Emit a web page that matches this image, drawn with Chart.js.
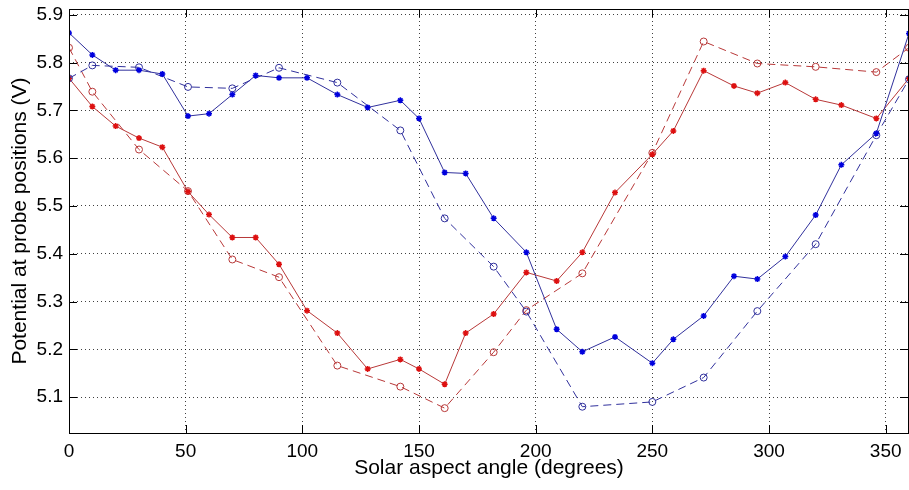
<!DOCTYPE html>
<html>
<head>
<meta charset="utf-8">
<script src="https://cdn.jsdelivr.net/npm/chart.js@4"></script>
<style>
  html, body { margin: 0; padding: 0; background: #fff; }
  #chart { display: block; }
</style>
</head>
<body>
<canvas id="chart" width="909" height="490"></canvas>
<script>
// angles where the solid (asterisk) curves were sampled
const anglesSolid = [0, 10, 20, 30, 40, 51, 60, 70, 80, 90, 102, 115, 128, 142, 150, 161,
    170, 182, 196, 209, 220, 234, 250, 259, 272, 285, 295, 307, 320, 331, 346, 360];
// angles of the dashed (circle) curves
const anglesDashed = [0, 10, 30, 51, 70, 90, 115, 142, 161, 182, 196, 220, 250, 272, 295, 320, 346, 360];

const blueSolid = [5.862, 5.816, 5.784, 5.784, 5.776, 5.688, 5.693, 5.733, 5.773, 5.768, 5.768, 5.733,
    5.706, 5.721, 5.683, 5.570, 5.568, 5.474, 5.403, 5.242, 5.195, 5.226, 5.171, 5.221,
    5.270, 5.353, 5.347, 5.394, 5.481, 5.586, 5.652, 5.861];
const redSolid = [5.767, 5.708, 5.667, 5.642, 5.623, 5.530, 5.482, 5.434, 5.434, 5.378, 5.281, 5.234,
    5.159, 5.179, 5.159, 5.127, 5.234, 5.274, 5.361, 5.343, 5.403, 5.528, 5.608, 5.657,
    5.783, 5.751, 5.736, 5.758, 5.723, 5.711, 5.683, 5.767];
const blueDashed = [5.767, 5.794, 5.790, 5.749, 5.746, 5.789, 5.758, 5.658, 5.474, 5.373, 5.279, 5.080,
    5.090, 5.141, 5.280, 5.420, 5.648, 5.765];
const redDashed = [5.831, 5.739, 5.618, 5.531, 5.388, 5.351, 5.166, 5.122, 5.077, 5.194, 5.282, 5.359,
    5.611, 5.844, 5.798, 5.791, 5.780, 5.831];

const xTicks = [0, 50, 100, 150, 200, 250, 300, 350];
const yTicks = [5.1, 5.2, 5.3, 5.4, 5.5, 5.6, 5.7, 5.8, 5.9];

const FONT = "'Liberation Sans', Arial, Helvetica, sans-serif";
const BLUE = '#30309c';
const RED = '#b83838';

function pts(xs, ys) {
    return xs.map((x, i) => ({ x: x, y: ys[i] }));
}

// box round the axes plus small inward tick marks, like MATLAB
const framePlugin = {
    id: 'frame',
    afterDatasetsDraw(chart) {
        const ctx = chart.ctx;
        const a = chart.chartArea;
        const xs = chart.scales.x, ys = chart.scales.y;
        ctx.save();
        ctx.strokeStyle = '#000';
        ctx.lineWidth = 1;
        ctx.setLineDash([]);
        ctx.strokeRect(Math.round(a.left) + 0.5, Math.round(a.top) + 0.5,
            Math.round(a.right - a.left) - 1, Math.round(a.bottom - a.top));
        ctx.beginPath();
        xTicks.forEach(v => {
            const p = Math.round(xs.getPixelForValue(v)) + 0.5;
            ctx.moveTo(p, a.bottom); ctx.lineTo(p, a.bottom - 8);
            ctx.moveTo(p, a.top); ctx.lineTo(p, a.top + 8);
        });
        yTicks.forEach(v => {
            const p = Math.round(ys.getPixelForValue(v)) + 0.5;
            ctx.moveTo(a.left, p); ctx.lineTo(a.left + 8, p);
            ctx.moveTo(a.right - 1, p); ctx.lineTo(a.right - 9, p);
        });
        ctx.stroke();
        ctx.restore();
    }
};

const ctx = document.getElementById('chart').getContext('2d');
new Chart(ctx, {
    type: 'scatter',
    data: {
        datasets: [
            {
                label: 'Blue probe (measured)',
                data: pts(anglesSolid, blueSolid),
                showLine: true,
                borderColor: BLUE,
                backgroundColor: '#0000dd',
                borderWidth: 1,
                pointStyle: 'star',
                pointRadius: 3,
                pointBorderColor: '#0000dd',
                pointBorderWidth: 1.5
            },
            {
                label: 'Blue probe (model)',
                data: pts(anglesDashed, blueDashed),
                showLine: true,
                borderColor: BLUE,
                borderDash: [8, 5],
                borderWidth: 1,
                pointStyle: 'circle',
                pointRadius: 3.5,
                pointBackgroundColor: 'rgba(0,0,0,0)',
                pointBorderColor: BLUE,
                pointBorderWidth: 1
            },
            {
                label: 'Red probe (measured)',
                data: pts(anglesSolid, redSolid),
                showLine: true,
                borderColor: RED,
                backgroundColor: '#dd1010',
                borderWidth: 1,
                pointStyle: 'star',
                pointRadius: 3,
                pointBorderColor: '#dd1010',
                pointBorderWidth: 1.5
            },
            {
                label: 'Red probe (model)',
                data: pts(anglesDashed, redDashed),
                showLine: true,
                borderColor: RED,
                borderDash: [8, 5],
                borderWidth: 1,
                pointStyle: 'circle',
                pointRadius: 3.5,
                pointBackgroundColor: 'rgba(0,0,0,0)',
                pointBorderColor: RED,
                pointBorderWidth: 1
            }
        ]
    },
    options: {
        responsive: false,
        animation: false,
        layout: { autoPadding: false, padding: { top: 9, right: 0, left: 0, bottom: 0 } },
        plugins: {
            legend: { display: false },
            tooltip: { enabled: false }
        },
        scales: {
            x: {
                type: 'linear',
                min: 0,
                max: 360,
                afterBuildTicks: axis => { axis.ticks = xTicks.map(v => ({ value: v })); },
                afterFit: axis => {
                    axis.height = 57;
                    axis.paddingLeft = 0;
                    axis.paddingRight = 0;
                },
                border: { display: false, dash: [1, 3] },
                grid: {
                    color: 'rgba(0,0,0,0.75)',
                    lineWidth: 1,
                    drawTicks: false
                },
                ticks: {
                    color: '#000',
                    padding: 7,
                    maxRotation: 0,
                    font: { family: FONT, size: 19 }
                },
                title: {
                    display: true,
                    text: 'Solar aspect angle (degrees)',
                    color: '#000',
                    padding: { top: 0, bottom: 9 },
                    font: { family: FONT, size: 21 }
                }
            },
            y: {
                type: 'linear',
                min: 5.025,
                max: 5.912,
                afterBuildTicks: axis => { axis.ticks = yTicks.map(v => ({ value: v })); },
                afterFit: axis => {
                    axis.width = 69;
                    axis.paddingTop = 0;
                    axis.paddingBottom = 0;
                },
                border: { display: false, dash: [1, 3] },
                grid: {
                    color: 'rgba(0,0,0,0.75)',
                    lineWidth: 1,
                    drawTicks: false
                },
                ticks: {
                    color: '#000',
                    padding: 6,
                    font: { family: FONT, size: 19 },
                    callback: v => v.toFixed(1)
                },
                title: {
                    display: true,
                    text: 'Potential at probe positions (V)',
                    color: '#000',
                    padding: { top: 8, bottom: 0 },
                    font: { family: FONT, size: 21 }
                }
            }
        }
    },
    plugins: [framePlugin]
});
</script>
</body>
</html>
